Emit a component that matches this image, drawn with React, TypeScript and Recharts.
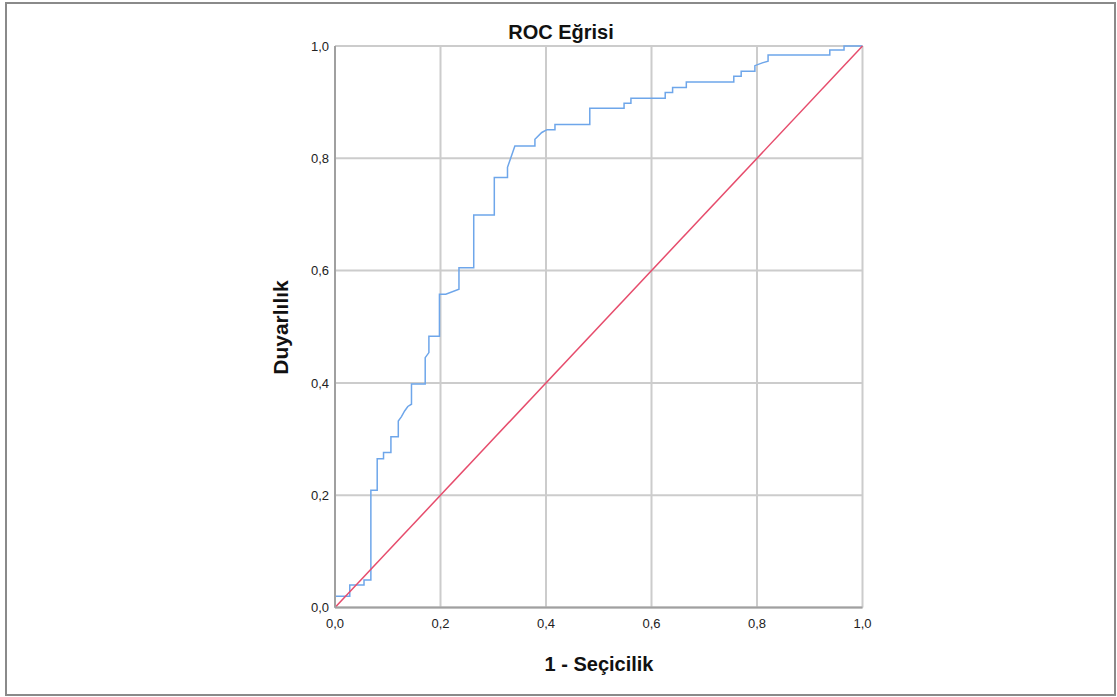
import React from 'react';
import { LineChart, Line, XAxis, YAxis, CartesianGrid } from 'recharts';

const rocFpr = [
  0, 0, 0.028, 0.028, 0.055, 0.055, 0.068, 0.068, 0.08, 0.08, 0.092, 0.092, 0.106, 0.106,
  0.12, 0.12, 0.126, 0.132, 0.138, 0.145, 0.145, 0.171, 0.171, 0.178, 0.178, 0.198, 0.198,
  0.21, 0.235, 0.235, 0.263, 0.263, 0.302, 0.302, 0.327, 0.327, 0.333, 0.341, 0.379, 0.379,
  0.392, 0.402, 0.417, 0.417, 0.483, 0.483, 0.548, 0.548, 0.561, 0.561, 0.626, 0.626, 0.64,
  0.64, 0.666, 0.666, 0.756, 0.756, 0.77, 0.77, 0.796, 0.796, 0.81, 0.821, 0.821, 0.938,
  0.938, 0.965, 0.965, 1,
];
const rocTpr = [
  0, 0.02, 0.02, 0.04, 0.04, 0.049, 0.049, 0.209, 0.209, 0.265, 0.265, 0.276, 0.276, 0.304,
  0.304, 0.332, 0.34, 0.35, 0.358, 0.362, 0.398, 0.398, 0.445, 0.454, 0.483, 0.483, 0.558,
  0.558, 0.567, 0.605, 0.605, 0.699, 0.699, 0.766, 0.766, 0.784, 0.8, 0.822, 0.822, 0.834,
  0.846, 0.851, 0.851, 0.86, 0.86, 0.889, 0.889, 0.898, 0.898, 0.907, 0.907, 0.917, 0.917,
  0.926, 0.926, 0.936, 0.936, 0.946, 0.946, 0.955, 0.955, 0.965, 0.97, 0.973, 0.984, 0.984,
  0.993, 0.993, 1, 1,
];
const refFpr = [0, 1];
const refTpr = [0, 1];
const axisTicks = [0, 0.2, 0.4, 0.6, 0.8, 1];

const titleText = 'ROC Eğrisi';
const xLabelText = '1 - Seçicilik';
const yLabelText = 'Duyarlılık';

const rocData = rocFpr.map((x, i) => ({ x, y: rocTpr[i] }));
const refData = refFpr.map((x, i) => ({ x, y: refTpr[i] }));

const fmt = (v: number) => v.toFixed(1).replace('.', ',');
const font = '"Liberation Sans", Arial, sans-serif';

export default function App() {
  return (
    <div style={{ position: 'absolute', left: 0, top: 0, width: 1117, height: 697, background: '#fff' }}>
      <div
        style={{
          position: 'absolute',
          left: 5,
          top: 2,
          width: 1111,
          height: 694,
          boxSizing: 'border-box',
          border: '2px solid #8a8a8a',
        }}
      />
      <div style={{ position: 'absolute', left: 0, top: 0 }}>
        <LineChart
          width={1117}
          height={697}
          margin={{ top: 46, right: 254.5, bottom: 59.5, left: 275 }}
        >
          <CartesianGrid stroke="#cccccc" strokeWidth={2} horizontalValues={axisTicks} verticalValues={axisTicks} />
          <XAxis
            type="number"
            dataKey="x"
            domain={[0, 1]}
            ticks={axisTicks}
            tickFormatter={fmt}
            height={30}
            tickLine={false}
            tickSize={0}
            tickMargin={11}
            axisLine={{ stroke: '#a0a0a0', strokeWidth: 2 }}
            tick={{ fill: '#222', fontSize: 13, fontFamily: font }}
            allowDuplicatedCategory={false}
          />
          <YAxis
            type="number"
            dataKey="y"
            domain={[0, 1]}
            ticks={axisTicks}
            tickFormatter={fmt}
            width={60}
            tickLine={false}
            tickSize={0}
            tickMargin={6}
            axisLine={{ stroke: '#a0a0a0', strokeWidth: 2 }}
            tick={{ fill: '#222', fontSize: 13, fontFamily: font }}
          />
          <Line
            data={rocData}
            dataKey="y"
            type="linear"
            stroke="#6ea6ea"
            strokeWidth={1.5}
            dot={false}
            isAnimationActive={false}
          />
          <Line
            data={refData}
            dataKey="y"
            type="linear"
            stroke="#e64c6c"
            strokeWidth={1.5}
            dot={false}
            isAnimationActive={false}
          />
        </LineChart>
      </div>
      <svg
        width={1117}
        height={697}
        style={{ position: 'absolute', left: 0, top: 0, pointerEvents: 'none' }}
      >
        <text x={561} y={39} textAnchor="middle" fontFamily={font} fontWeight="bold" fontSize={20} fill="#111">
          {titleText}
        </text>
        <text x={599} y={671} textAnchor="middle" fontFamily={font} fontWeight="bold" fontSize={20} fill="#111">
          {xLabelText}
        </text>
        <text
          x={0}
          y={0}
          transform="translate(288,327.5) rotate(-90)"
          textAnchor="middle"
          fontFamily={font}
          fontWeight="bold"
          fontSize={21}
          fill="#111"
        >
          {yLabelText}
        </text>
      </svg>
    </div>
  );
}
